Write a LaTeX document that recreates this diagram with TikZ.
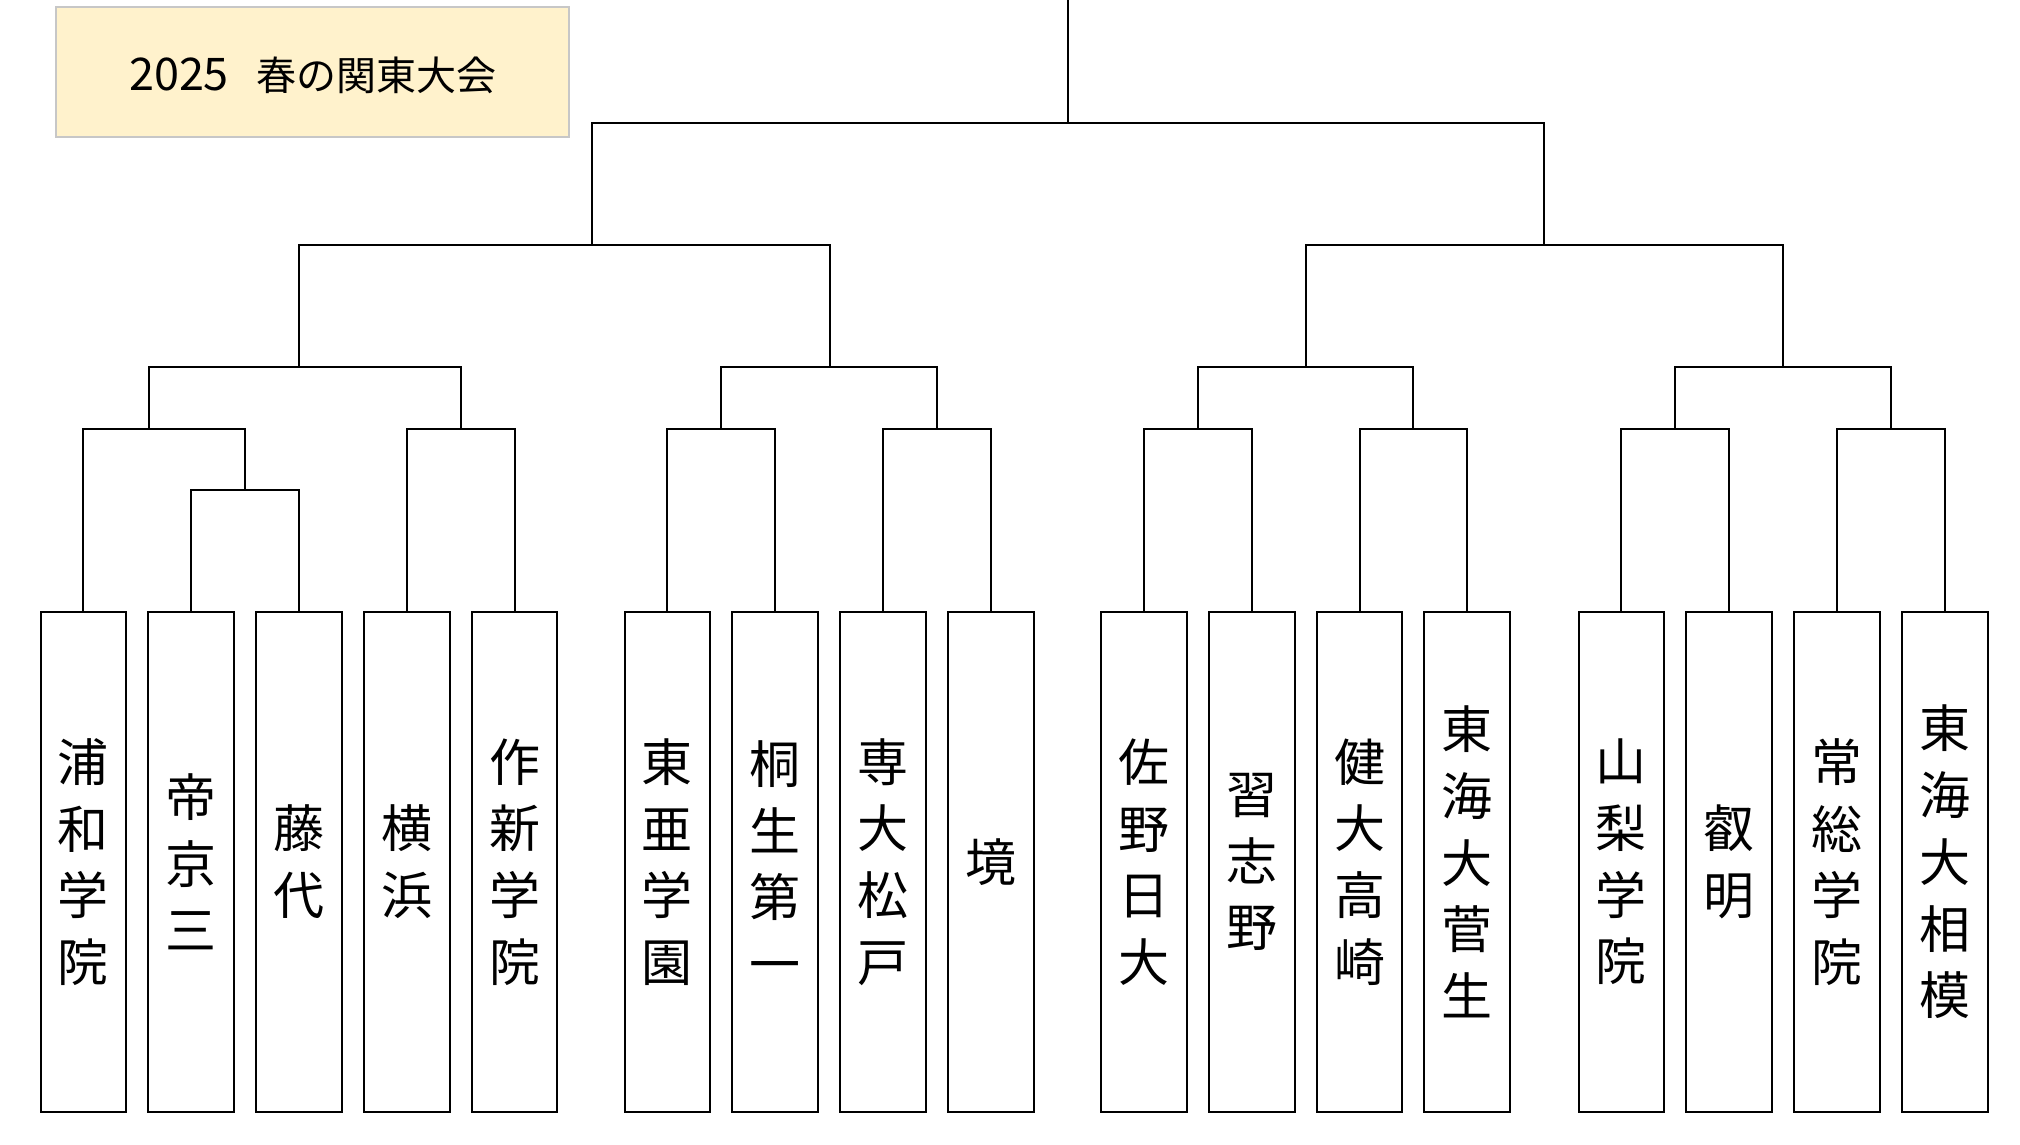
\documentclass[tikz,border=0pt]{standalone}
\usepackage{fontspec}
\newfontfamily\jpfont{Noto Sans CJK JP}
\begin{document}
\begin{tikzpicture}[x=0.5pt,y=-0.5pt,
  team/.style={draw=black,line width=1pt,fill=white,minimum width=42.85pt,minimum height=250pt,inner sep=0pt,align=center,font=\jpfont\fontsize{25.5}{33.35}\selectfont},
  titlebox/.style={draw=black!22,line width=1pt,fill=titlefill},
  link/.style={draw=black,line width=1pt}]
\definecolor{titlefill}{HTML}{FFF2CC}
\useasboundingbox (0,0) rectangle (2020,1145);
\fill[white] (0,0) rectangle (2020,1145);
% title
\draw[titlebox] (56,7) rectangle (569,137);
\node[font=\jpfont\fontsize{20}{24}\selectfont,inner sep=0pt] (title) at (313,75) {{\fontsize{22.5}{24}\selectfont 2025}\hspace{14pt}春の関東大会};
% teams
\node[team] (t1) at (83.4,862) {浦\\和\\学\\院};
\node[team] (t2) at (191.2,862) {帝\\京\\三};
\node[team] (t3) at (299,862) {藤\\代};
\node[team] (t4) at (406.8,862) {横\\浜};
\node[team] (t5) at (514.6,862) {作\\新\\学\\院};
\node[team] (t6) at (667.4,862) {東\\亜\\学\\園};
\node[team] (t7) at (775.2,862) {桐\\生\\第\\一};
\node[team] (t8) at (883,862) {専\\大\\松\\戸};
\node[team] (t9) at (990.8,862) {境};
\node[team] (t10) at (1143.9,862) {佐\\野\\日\\大};
\node[team] (t11) at (1251.7,862) {習\\志\\野};
\node[team] (t12) at (1359.5,862) {健\\大\\高\\崎};
\node[team] (t13) at (1467.3,862) {東\\海\\大\\菅\\生};
\node[team] (t14) at (1621.4,862) {山\\梨\\学\\院};
\node[team] (t15) at (1729.2,862) {叡\\明};
\node[team] (t16) at (1837,862) {常\\総\\学\\院};
\node[team] (t17) at (1944.8,862) {東\\海\\大\\相\\模};
% junctions
\coordinate (j23) at (245.1,490);
\coordinate (j1) at (148.5,429);
\coordinate (j45) at (460.7,429);
\coordinate (q1) at (299,367);
\coordinate (j67) at (721.3,429);
\coordinate (j89) at (936.9,429);
\coordinate (q2) at (829.5,367);
\coordinate (s1) at (591.9,245);
\coordinate (j1011) at (1197.8,429);
\coordinate (j1213) at (1413.4,429);
\coordinate (q3) at (1305.6,367);
\coordinate (j1415) at (1675.3,429);
\coordinate (j1617) at (1890.9,429);
\coordinate (q4) at (1783,367);
\coordinate (s2) at (1544.3,245);
\coordinate (fin) at (1068,123);
\coordinate (top) at (1068,0);
% links
\draw[link] (t2.north) |- (j23) -| (t3.north);
\draw[link] (t1.north) |- (j1) -| (j23);
\draw[link] (t4.north) |- (j45) -| (t5.north);
\draw[link] (j1) |- (q1) -| (j45);
\draw[link] (t6.north) |- (j67) -| (t7.north);
\draw[link] (t8.north) |- (j89) -| (t9.north);
\draw[link] (j67) |- (q2) -| (j89);
\draw[link] (q1) |- (s1) -| (q2);
\draw[link] (t10.north) |- (j1011) -| (t11.north);
\draw[link] (t12.north) |- (j1213) -| (t13.north);
\draw[link] (j1011) |- (q3) -| (j1213);
\draw[link] (t14.north) |- (j1415) -| (t15.north);
\draw[link] (t16.north) |- (j1617) -| (t17.north);
\draw[link] (j1415) |- (q4) -| (j1617);
\draw[link] (q3) |- (s2) -| (q4);
\draw[link] (s1) |- (fin) -| (s2);
\draw[link] (fin) -- (top);
\end{tikzpicture}
\end{document}
